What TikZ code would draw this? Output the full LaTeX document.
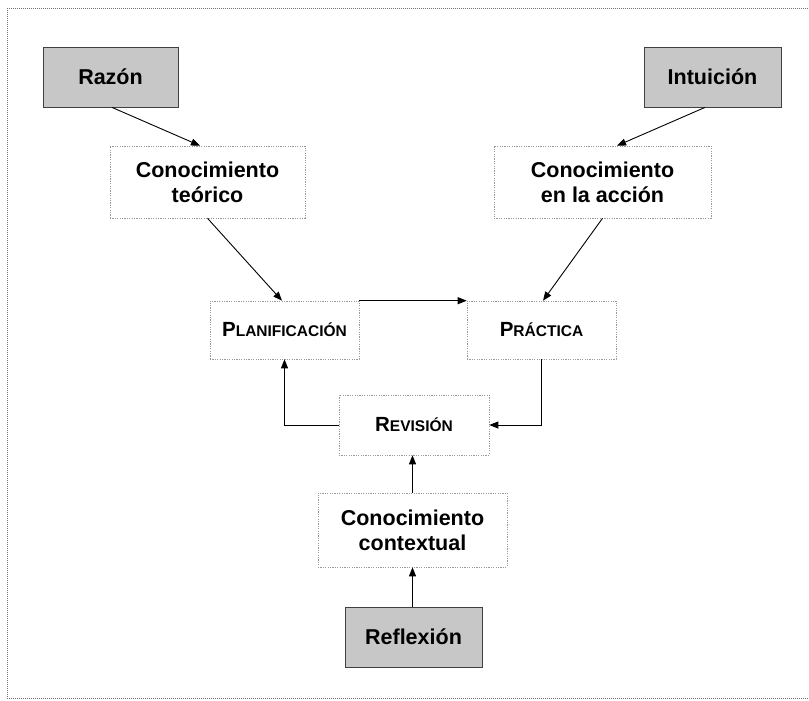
\documentclass[tikz,border=0pt]{standalone}
\usepackage{fontspec}
\setmainfont{Liberation Sans}
\usetikzlibrary{arrows.meta,calc}
\newcommand{\sctext}[2]{{\fontsize{20.5}{24}\selectfont #1}{\fontsize{15.5}{18}\selectfont #2}}
\tikzset{
  x=1pt, y=-1pt,
  base/.style={rectangle, inner sep=0pt, align=center, font=\fontsize{21.5}{25}\selectfont\bfseries},
  srcbox/.style={base, draw=black!75, line width=0.8pt, fill=black!22},
  dotbox/.style={base, draw=black!40, line width=0.6pt, dash pattern=on 1.2pt off 1.2pt},
  conn/.style={draw=black, line width=0.9pt, -{Triangle[length=9pt,width=7pt]}},
  frame/.style={draw=black!55, line width=1pt, dash pattern=on 1pt off 1pt}
}
\begin{document}
\begin{tikzpicture}
\useasboundingbox (0,0) rectangle (809,701);
\draw[frame] (812,9) -- (7,9) -- (7,698) -- (812,698);

\node[srcbox, minimum width=135pt, minimum height=60pt] (razon) at (110.5,77) {Razón};
\node[srcbox, minimum width=137pt, minimum height=60pt] (intu) at (712.5,77) {Intuición};
\node[dotbox, minimum width=195pt, minimum height=72pt] (teor) at (207.5,182) {Conocimiento\\teórico};
\node[dotbox, minimum width=217pt, minimum height=72pt] (accion) at (602.5,182) {Conocimiento\\en la acción};
\node[dotbox, minimum width=149pt, minimum height=58pt] (plan) at (284.5,330) {\bfseries\sctext{P}{LANIFICACIÓN}};
\node[dotbox, minimum width=149pt, minimum height=58pt] (prac) at (541.5,330) {\bfseries\sctext{P}{RÁCTICA}};
\node[dotbox, minimum width=150pt, minimum height=60pt] (rev) at (414,425) {\bfseries\sctext{R}{EVISIÓN}};
\node[dotbox, minimum width=189pt, minimum height=74pt] (ctx) at (412.5,530) {Conocimiento\\contextual};
\node[srcbox, minimum width=137pt, minimum height=60pt] (refl) at (413.5,637) {Reflexión};

\draw[conn] ([xshift=1.5pt]razon.south) -- ([xshift=-7.5pt]teor.north);
\draw[conn] ([xshift=-7.5pt]intu.south) -- ([xshift=14.5pt]accion.north);
\draw[conn] (teor.south) -- ([xshift=-2.5pt]plan.north);
\draw[conn] (accion.south) -- ([xshift=1.5pt]prac.north);
\draw[conn] (plan.north east) -- (prac.north west);
\draw[conn] (prac.south) |- (rev.east);
\draw[conn] (rev.west) -| (plan.south);
\draw[conn] (ctx.north) -- (ctx.north |- rev.south);
\draw[conn] (ctx.south |- refl.north) -- (ctx.south);
\end{tikzpicture}
\end{document}
